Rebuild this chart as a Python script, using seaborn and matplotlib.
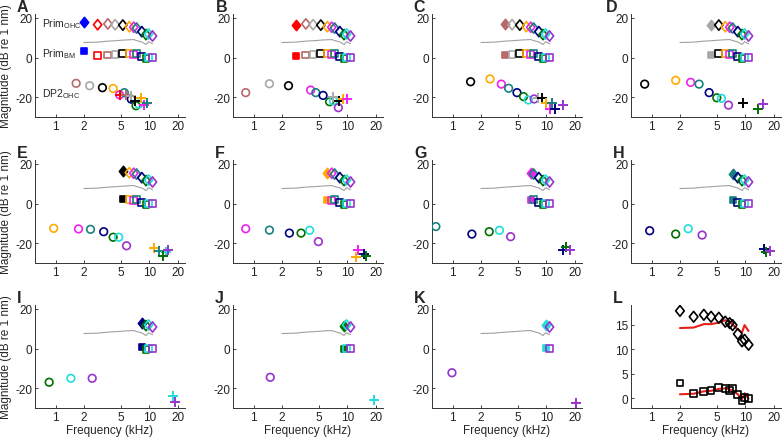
import numpy as np
import pandas as pd
import matplotlib
matplotlib.use("Agg")
import matplotlib.pyplot as plt
import seaborn as sns
from matplotlib.path import Path

sns.set_theme(style="white")
plt.rcParams["font.family"] = ["Liberation Sans", "DejaVu Sans"]
plt.rcParams["mathtext.fontset"] = "custom"
plt.rcParams["mathtext.rm"] = "Liberation Sans"
plt.rcParams["mathtext.it"] = "Liberation Sans:italic"

# ---------------- data ----------------
FREQS = [2.0, 2.8, 3.6, 4.3, 5.2, 6.1, 6.8, 7.3, 8.3, 9.2, 9.8, 10.8]
OHC_DB = [17.8, 16.6, 17.0, 16.6, 16.4, 15.6, 15.3, 14.9, 13.1, 11.6, 11.9, 10.9]
BM_DB = [3.1, 1.0, 1.3, 1.5, 2.2, 1.9, 1.6, 2.0, 0.7, -0.4, 0.1, 0.0]
REF_GRAY_DB = [7.6, 7.8, 8.3, 8.5, 8.8, 9.0, 9.1, 8.6, 7.9, 6.6, 8.0, 7.0]
RED_OHC_DB = [14.3, 14.4, 15.1, 15.1, 15.4, 15.9, 15.6, 15.0, 14.0, 13.4, 14.9, 13.7]
RED_BM_DB = [0.8, 0.9, 1.4, 1.5, 1.9, 2.0, 1.8, 1.5, 0.8, -0.2, 1.0, -0.1]

COLORS = ["#0000ff", "#ff0000", "#b86a6a", "#a8a8a8", "#000000", "#ffaa00",
          "#ee22ee", "#1a8080", "#000080", "#007000", "#22dddd", "#9933cc"]

PANELS = list("ABCDEFGHIJK")

# DP2 points per panel: (frequency kHz, dB, colour index, marker)
dp_A = [(1.65, -13.0, 2, "o"), (2.3, -14.2, 3, "o"), (3.15, -15.2, 4, "o"), (4.1, -15.6, 5, "o"),
        (4.8, -18.8, 6, "o"), (5.4, -17.7, 7, "o"), (6.4, -21.0, 8, "o"), (7.2, -24.3, 9, "o"),
        (7.7, -23.5, 10, "o"),
        (4.8, -18.8, 1, "+"), (5.6, -19.0, 2, "+"), (6.3, -19.5, 3, "+"), (7.0, -22.0, 4, "+"),
        (8.1, -20.6, 5, "+"), (8.7, -24.0, 6, "+"), (9.4, -23.1, 7, "+")]
dp_B = [(0.82, -17.7, 2, "o"), (1.47, -13.2, 3, "o"), (2.35, -14.2, 4, "o"), (4.05, -16.4, 6, "o"),
        (4.6, -17.7, 7, "o"), (5.5, -19.1, 8, "o"), (6.45, -22.3, 9, "o"), (7.1, -21.8, 10, "o"),
        (8.0, -25.3, 11, "o"),
        (7.0, -20.0, 3, "+"), (8.1, -21.8, 4, "+"), (9.0, -21.1, 5, "+"), (9.8, -21.1, 6, "+")]
dp_C = [(1.55, -12.2, 4, "o"), (2.5, -10.8, 5, "o"), (3.3, -13.4, 6, "o"), (3.95, -15.5, 7, "o"),
        (4.85, -17.7, 8, "o"), (5.7, -19.7, 9, "o"), (6.4, -21.4, 10, "o"), (7.4, -20.9, 11, "o"),
        (8.2, -20.6, 3, "+"), (8.9, -20.3, 4, "+"), (9.9, -23.1, 5, "+"), (11.4, -22.8, 7, "+"),
        (10.8, -26.0, 6, "+"), (12.4, -26.0, 8, "+"), (15.0, -24.0, 11, "+")]
dp_D = [(0.84, -13.4, 4, "o"), (1.8, -11.5, 5, "o"), (2.6, -12.5, 6, "o"), (3.2, -13.4, 7, "o"),
        (4.1, -17.7, 8, "o"), (4.95, -20.3, 9, "o"), (5.55, -20.6, 10, "o"), (6.6, -24.0, 11, "o"),
        (9.5, -22.8, 4, "+"), (13.5, -26.0, 9, "+"), (15.3, -23.5, 11, "+")]
dp_E = [(0.95, -12.5, 5, "o"), (1.75, -12.8, 6, "o"), (2.35, -13.0, 7, "o"), (3.25, -14.2, 8, "o"),
        (4.1, -17.0, 9, "o"), (4.7, -17.0, 10, "o"), (5.7, -21.3, 11, "o"),
        (11.1, -22.3, 5, "+"), (12.6, -24.0, 7, "+"), (15.0, -24.5, 10, "+"),
        (14.1, -26.6, 9, "+"), (15.8, -23.3, 11, "+")]
dp_F = [(0.82, -12.7, 6, "o"), (1.47, -13.4, 7, "o"), (2.4, -14.9, 8, "o"), (3.2, -14.9, 9, "o"),
        (3.95, -13.5, 10, "o"), (4.9, -19.2, 11, "o"),
        (13.0, -23.5, 6, "+"), (12.3, -26.8, 5, "+"), (15.0, -25.3, 8, "+"), (15.8, -26.6, 9, "+")]
dp_G = [(0.66, -11.6, 7, "o"), (1.6, -15.4, 8, "o"), (2.45, -14.2, 9, "o"), (3.15, -13.5, 10, "o"),
        (4.15, -16.7, 11, "o"),
        (15.1, -23.3, 8, "+"), (16.2, -21.8, 9, "+"), (17.8, -23.3, 11, "+")]
dp_H = [(0.95, -13.7, 8, "o"), (1.8, -15.4, 9, "o"), (2.45, -12.7, 10, "o"), (3.45, -15.9, 11, "o"),
        (15.9, -22.8, 8, "+"), (16.7, -24.5, 9, "+"), (18.3, -24.0, 11, "+")]
dp_I = [(0.85, -17.0, 9, "o"), (1.45, -15.0, 10, "o"), (2.45, -15.0, 11, "o"),
        (18.0, -24.0, 10, "+"), (18.8, -27.0, 11, "+")]
dp_J = [(1.5, -14.5, 11, "o"), (19.0, -26.0, 10, "+")]
dp_K = [(0.98, -12.2, 11, "o"), (20.6, -27.3, 11, "+")]
DP = dict(A=dp_A, B=dp_B, C=dp_C, D=dp_D, E=dp_E, F=dp_F, G=dp_G, H=dp_H, I=dp_I, J=dp_J, K=dp_K)

# ---------------- layout ----------------
W, H = 783, 439
fig = plt.figure(figsize=(W / 100, H / 100), dpi=100)
COL_LEFT = [35, 233, 432, 631]
LETTER_DX = [-18, -17, -19, -25]
ROW_TOP = [15, 161, 306]
AW, AH = 150, 103

DIAMOND = Path([(0, 1), (0.8, 0), (0, -1), (-0.8, 0), (0, 1)],
               [Path.MOVETO, Path.LINETO, Path.LINETO, Path.LINETO, Path.CLOSEPOLY])


def make_ax(r, c):
    l, t = COL_LEFT[c], ROW_TOP[r]
    return fig.add_axes([l / W, 1 - (t + AH) / H, AW / W, AH / H])


def style_ax(ax, r, c, letter, ylim, yticks):
    ax.set_xscale("log")
    ax.set_xlim(0.6, 24)
    ax.set_ylim(*ylim)
    ax.set_xticks([1, 2, 5, 10, 20])
    ax.set_xticklabels(["1", "2", "5", "10", "20"])
    ax.xaxis.set_minor_locator(matplotlib.ticker.NullLocator())
    ax.set_yticks(yticks)
    ax.set_yticklabels([str(v) for v in yticks])
    for s in ["top", "right"]:
        ax.spines[s].set_visible(False)
    for s in ["left", "bottom"]:
        ax.spines[s].set_color("#333333")
        ax.spines[s].set_linewidth(0.7)
    ax.tick_params(direction="in", length=2.5, width=0.6, labelsize=8.5, pad=2,
                   colors="#222222", bottom=True, left=True)
    ax.set_xlabel("Frequency (kHz)" if r == 2 else "", fontsize=8.5, labelpad=1)
    ax.set_ylabel("Magnitude (dB re 1 nm)" if c == 0 else "", fontsize=8.5, labelpad=2)
    l, t = COL_LEFT[c], ROW_TOP[r]
    dx = LETTER_DX[c] if r == 0 else -18
    fig.text((l + dx) / W, 1 - (t - 7) / H, letter, fontsize=11.5, fontweight="bold",
             ha="left", va="center")


def pts(ax, x, y, color, marker, filled, s, lw=1.2, z=3):
    sns.scatterplot(x=x, y=y, ax=ax, marker=marker, s=s, color=color,
                    facecolor=color if filled else "none", edgecolor=color,
                    linewidth=lw, legend=False, zorder=z)


idx = 0
for r in range(3):
    for c in range(4):
        ax = make_ax(r, c)
        if r == 2 and c == 3:
            letter = "L"
            sns.lineplot(x=FREQS, y=RED_OHC_DB, ax=ax, color="#e8201a", lw=1.5, estimator=None, sort=False)
            sns.lineplot(x=FREQS, y=RED_BM_DB, ax=ax, color="#e8201a", lw=1.5, estimator=None, sort=False)
            for i, f in enumerate(FREQS):
                pts(ax, [f], [OHC_DB[i]], "black", DIAMOND, False, 60)
                pts(ax, [f], [BM_DB[i]], "black", "s", False, 24)
            style_ax(ax, r, c, letter, (-2, 19), [0, 5, 10, 15])
            continue
        letter = PANELS[idx]
        f1 = idx
        sns.lineplot(x=FREQS, y=REF_GRAY_DB, ax=ax, color="#a0a0a0", lw=0.8, estimator=None, sort=False)
        for i in range(f1, len(FREQS)):
            pts(ax, [FREQS[i]], [OHC_DB[i]], COLORS[i], DIAMOND, i == f1, 55)
            pts(ax, [FREQS[i]], [BM_DB[i]], COLORS[i], "s", i == f1, 24)
        for (f, db, ci, mk) in DP[letter]:
            if mk == "o":
                pts(ax, [f], [db], COLORS[ci], "o", False, 30)
            else:
                pts(ax, [f], [db], COLORS[ci], "+", True, 45, lw=1.4)
        if letter == "A":
            ax.text(0.047, 0.882, r"Prim$_{\mathrm{OHC}}$", transform=ax.transAxes, fontsize=7.5, va="baseline")
            ax.text(0.047, 0.588, r"Prim$_{\mathrm{BM}}$", transform=ax.transAxes, fontsize=7.5, va="baseline")
            ax.text(0.047, 0.206, r"DP2$_{\mathrm{OHC}}$", transform=ax.transAxes, fontsize=7.5, va="baseline")
        style_ax(ax, r, c, letter, (-30, 22), [-20, 0, 20])
        idx += 1

fig.savefig("out.png", dpi=100)
